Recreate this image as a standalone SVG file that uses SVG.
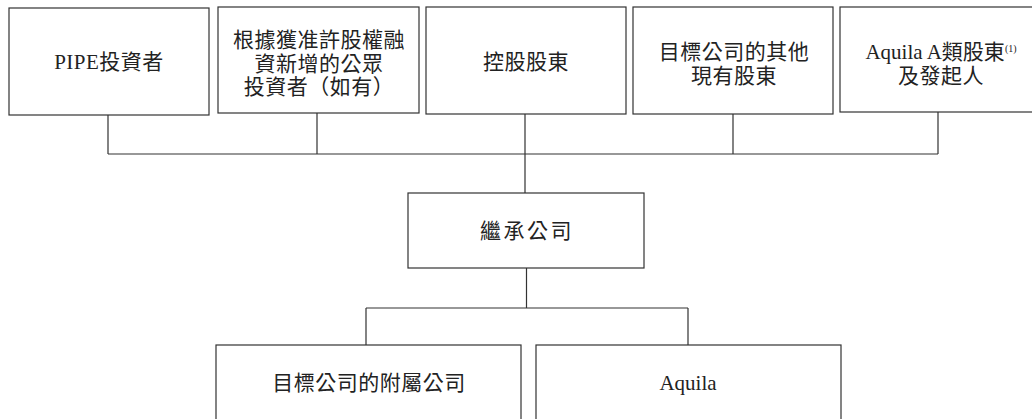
<svg xmlns="http://www.w3.org/2000/svg" width="1032" height="419" viewBox="0 0 1032 419">
<style>
.box{fill:#fff;stroke:#333;stroke-width:1.2}
.ln{fill:none;stroke:#333;stroke-width:1.2}
text{font-family:"Liberation Serif","Noto Sans CJK TC",serif;font-size:21px;fill:#222;text-anchor:middle}
.sup{font-size:10px}
</style>
<rect width="1032" height="419" fill="#fff"/>
<g id="connectors">
<path class="ln" d="M108,115 V154 M317,113 V154 M525,114 V193 M733,114 V154 M938,112 V154 M108,154 H938"/>
<path class="ln" d="M526.5,268 V308 M366,308 H688 M366,308 V345 M688,308 V345"/>
</g>
<g id="pipe">
<rect class="box" x="9" y="8" width="200" height="107"/>
<text x="109" y="69" letter-spacing="0.5">PIPE投資者</text>
</g>
<g id="public">
<rect class="box" x="218" y="7" width="201" height="106"/>
<text x="319" y="47" letter-spacing="0.5">根據獲准許股權融</text>
<text x="319" y="71" letter-spacing="0.5">資新增的公眾</text>
<text x="319" y="94" letter-spacing="0.5">投資者（如有）</text>
</g>
<g id="controlling">
<rect class="box" x="426" y="7" width="200" height="107"/>
<text x="526" y="69" letter-spacing="0.5">控股股東</text>
</g>
<g id="others">
<rect class="box" x="633" y="7" width="200" height="107"/>
<text x="734" y="59" letter-spacing="0.5">目標公司的其他</text>
<text x="734" y="83" letter-spacing="0.5">現有股東</text>
</g>
<g id="aquila-a">
<rect class="box" x="840" y="7" width="205" height="105"/>
<text x="941" y="59">Aquila A類股東<tspan class="sup" dy="-7">(1)</tspan></text>
<text x="941" y="83" letter-spacing="0.5">及發起人</text>
</g>
<g id="successor">
<rect class="box" x="408" y="193" width="236" height="75"/>
<text x="527" y="238" letter-spacing="2.5">繼承公司</text>
</g>
<g id="subsidiaries">
<rect class="box" x="216" y="345" width="305" height="90"/>
<text x="369" y="390" letter-spacing="0.5">目標公司的附屬公司</text>
</g>
<g id="aquila">
<rect class="box" x="536" y="345" width="305" height="90"/>
<text x="688" y="390">Aquila</text>
</g>
</svg>
